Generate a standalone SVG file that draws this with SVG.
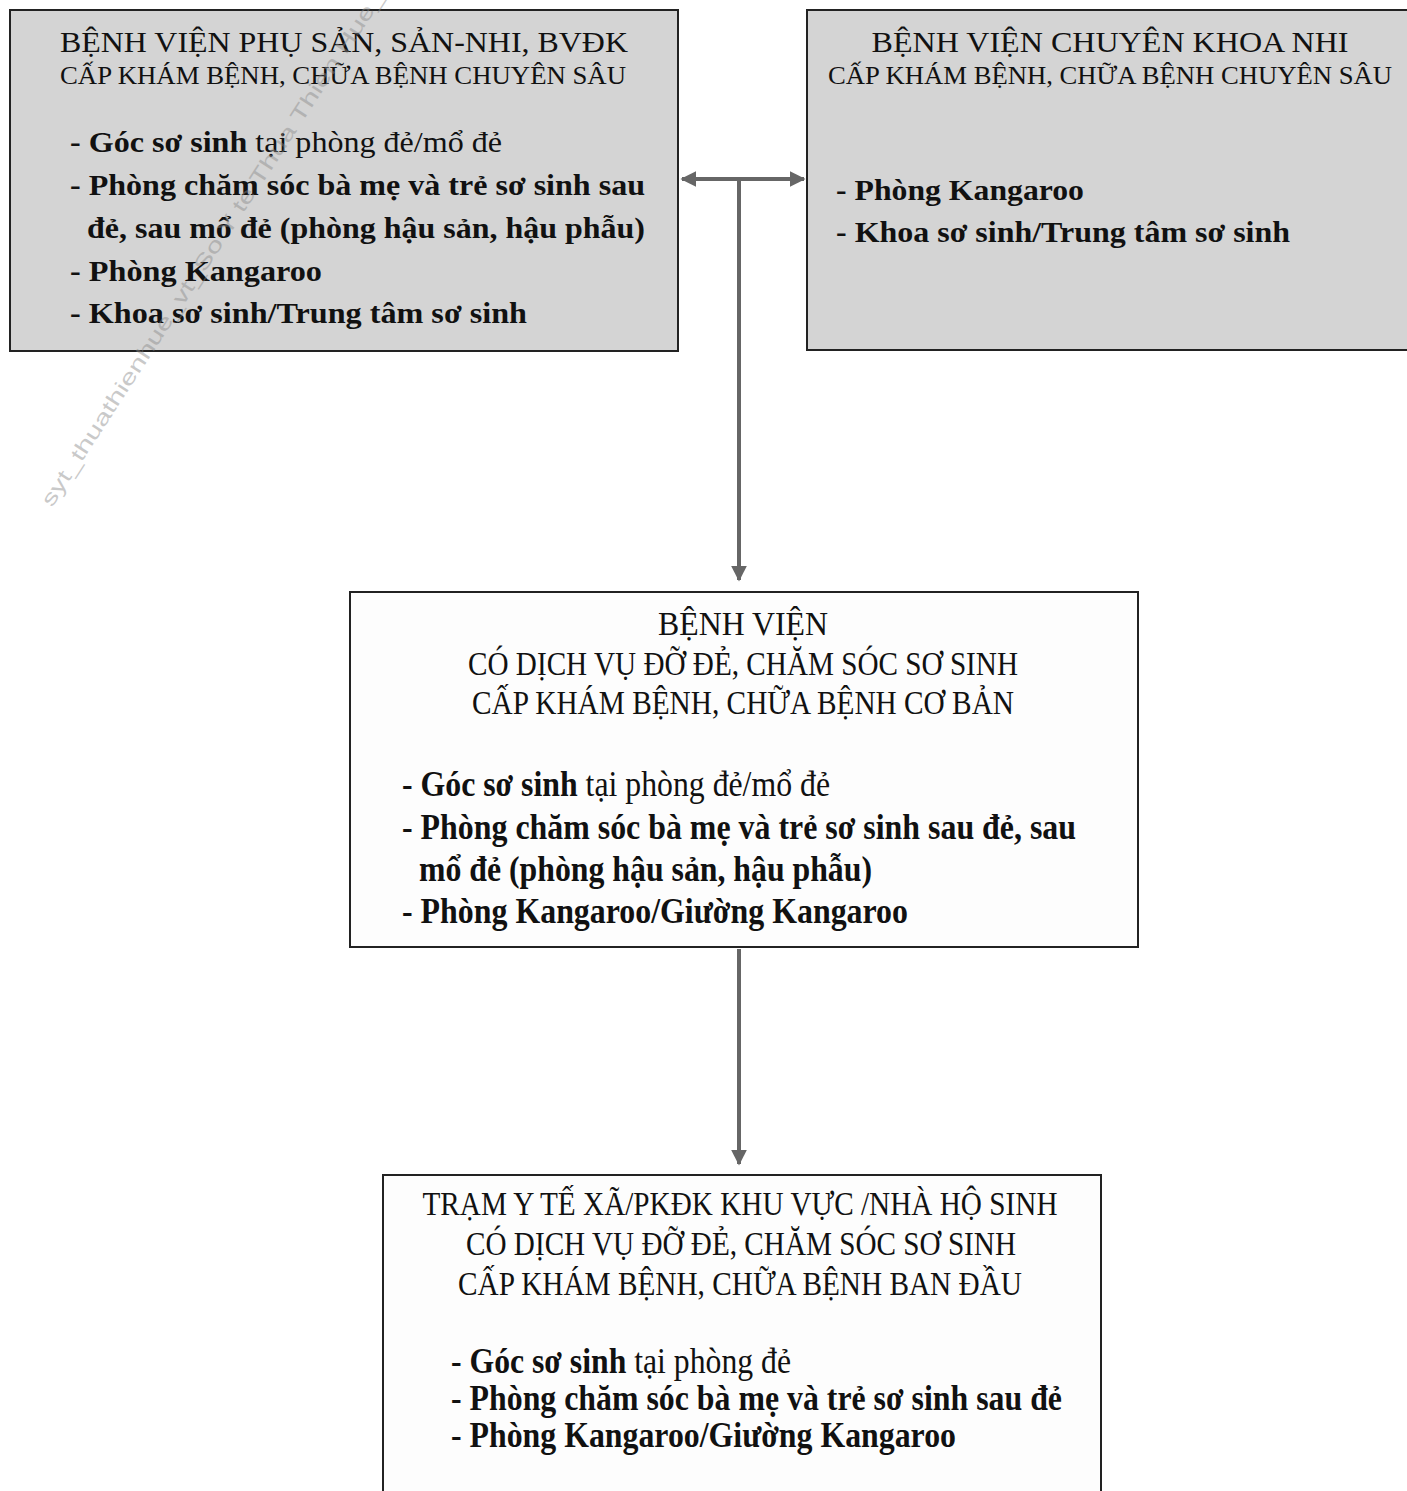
<svg xmlns="http://www.w3.org/2000/svg" width="1407" height="1491" viewBox="0 0 1407 1491">
<defs>
<style>
.t{font-family:"Liberation Serif","Times New Roman",serif;fill:#111;}
.h{font-size:30px;}
.s{font-size:25px;}
.b{font-size:29px;font-weight:bold;}
.h2{font-size:34px;}
.b2{font-size:36px;font-weight:bold;}
.n{font-weight:normal;}
.box{stroke:#222;stroke-width:2;}
.gray{fill:#d4d4d4;}
.white{fill:#fdfdfd;}
.con{stroke:#666;stroke-width:4;fill:none;}
.wm{font-family:"Liberation Sans",Arial,sans-serif;font-size:21px;fill:#8a8a8a;opacity:0.45;}
</style>
<marker id="ah" viewBox="0 0 10 10" refX="9" refY="5" markerWidth="4" markerHeight="4" orient="auto-start-reverse" markerUnits="strokeWidth">
<path d="M0,0 L10,5 L0,10 z" fill="#666"/>
</marker>
</defs>
<rect width="1407" height="1491" fill="#ffffff"/>

<g id="node-bv-phu-san">
<rect class="box gray" x="10" y="10" width="668" height="341"/>
<text class="t h" x="344" y="52" text-anchor="middle" textLength="568" lengthAdjust="spacingAndGlyphs">BỆNH VIỆN PHỤ SẢN, SẢN-NHI, BVĐK</text>
<text class="t s" x="343" y="84" text-anchor="middle" textLength="566" lengthAdjust="spacingAndGlyphs">CẤP KHÁM BỆNH, CHỮA BỆNH CHUYÊN SÂU</text>
<text class="t b" x="70" y="152" textLength="432" lengthAdjust="spacingAndGlyphs">- Góc sơ sinh<tspan class="n"> tại phòng đẻ/mổ đẻ</tspan></text>
<text class="t b" x="70" y="195" textLength="575" lengthAdjust="spacingAndGlyphs">- Phòng chăm sóc bà mẹ và trẻ sơ sinh sau</text>
<text class="t b" x="87" y="238" textLength="558" lengthAdjust="spacingAndGlyphs">đẻ, sau mổ đẻ (phòng hậu sản, hậu phẫu)</text>
<text class="t b" x="70" y="281" textLength="252" lengthAdjust="spacingAndGlyphs">- Phòng Kangaroo</text>
<text class="t b" x="70" y="323" textLength="457" lengthAdjust="spacingAndGlyphs">- Khoa sơ sinh/Trung tâm sơ sinh</text>
</g>

<g id="node-bv-nhi">
<rect class="box gray" x="807" y="10" width="610" height="340"/>
<text class="t h" x="1110" y="52" text-anchor="middle" textLength="477" lengthAdjust="spacingAndGlyphs">BỆNH VIỆN CHUYÊN KHOA NHI</text>
<text class="t s" x="1110" y="84" text-anchor="middle" textLength="564" lengthAdjust="spacingAndGlyphs">CẤP KHÁM BỆNH, CHỮA BỆNH CHUYÊN SÂU</text>
<text class="t b" x="836" y="200" textLength="248" lengthAdjust="spacingAndGlyphs">- Phòng Kangaroo</text>
<text class="t b" x="836" y="242" textLength="454" lengthAdjust="spacingAndGlyphs">- Khoa sơ sinh/Trung tâm sơ sinh</text>
</g>

<g id="node-bv-co-ban">
<rect class="box white" x="350" y="592" width="788" height="355"/>
<text class="t h2" x="743" y="635" text-anchor="middle" textLength="170" lengthAdjust="spacingAndGlyphs">BỆNH VIỆN</text>
<text class="t h2" x="743" y="675" text-anchor="middle" textLength="550" lengthAdjust="spacingAndGlyphs">CÓ DỊCH VỤ ĐỠ ĐẺ, CHĂM SÓC SƠ SINH</text>
<text class="t h2" x="743" y="714" text-anchor="middle" textLength="542" lengthAdjust="spacingAndGlyphs">CẤP KHÁM BỆNH, CHỮA BỆNH CƠ BẢN</text>
<text class="t b2" x="402" y="796" textLength="428" lengthAdjust="spacingAndGlyphs">- Góc sơ sinh<tspan class="n"> tại phòng đẻ/mổ đẻ</tspan></text>
<text class="t b2" x="402" y="839" textLength="674" lengthAdjust="spacingAndGlyphs">- Phòng chăm sóc bà mẹ và trẻ sơ sinh sau đẻ, sau</text>
<text class="t b2" x="419" y="881" textLength="453" lengthAdjust="spacingAndGlyphs">mổ đẻ (phòng hậu sản, hậu phẫu)</text>
<text class="t b2" x="402" y="923" textLength="506" lengthAdjust="spacingAndGlyphs">- Phòng Kangaroo/Giường Kangaroo</text>
</g>

<g id="node-tram-y-te">
<rect class="box white" x="383" y="1175" width="718" height="330"/>
<text class="t h2" x="740" y="1215" text-anchor="middle" textLength="635" lengthAdjust="spacingAndGlyphs">TRẠM Y TẾ XÃ/PKĐK KHU VỰC /NHÀ HỘ SINH</text>
<text class="t h2" x="741" y="1255" text-anchor="middle" textLength="550" lengthAdjust="spacingAndGlyphs">CÓ DỊCH VỤ ĐỠ ĐẺ, CHĂM SÓC SƠ SINH</text>
<text class="t h2" x="740" y="1295" text-anchor="middle" textLength="564" lengthAdjust="spacingAndGlyphs">CẤP KHÁM BỆNH, CHỮA BỆNH BAN ĐẦU</text>
<text class="t b2" x="451" y="1373" textLength="340" lengthAdjust="spacingAndGlyphs">- Góc sơ sinh<tspan class="n"> tại phòng đẻ</tspan></text>
<text class="t b2" x="451" y="1410" textLength="611" lengthAdjust="spacingAndGlyphs">- Phòng chăm sóc bà mẹ và trẻ sơ sinh sau đẻ</text>
<text class="t b2" x="451" y="1447" textLength="505" lengthAdjust="spacingAndGlyphs">- Phòng Kangaroo/Giường Kangaroo</text>
</g>

<g id="connectors">
<line class="con" x1="682" y1="179" x2="804" y2="179" marker-start="url(#ah)" marker-end="url(#ah)"/>
<line class="con" x1="739" y1="179" x2="739" y2="580" marker-end="url(#ah)"/>
<line class="con" x1="739" y1="949" x2="739" y2="1164" marker-end="url(#ah)"/>
</g>

<text class="wm" x="0" y="0" transform="translate(52,508) rotate(-57)" textLength="610" lengthAdjust="spacingAndGlyphs">syt_thuathienhue_vt_So Y te Thua Thien Hue_</text>
</svg>
